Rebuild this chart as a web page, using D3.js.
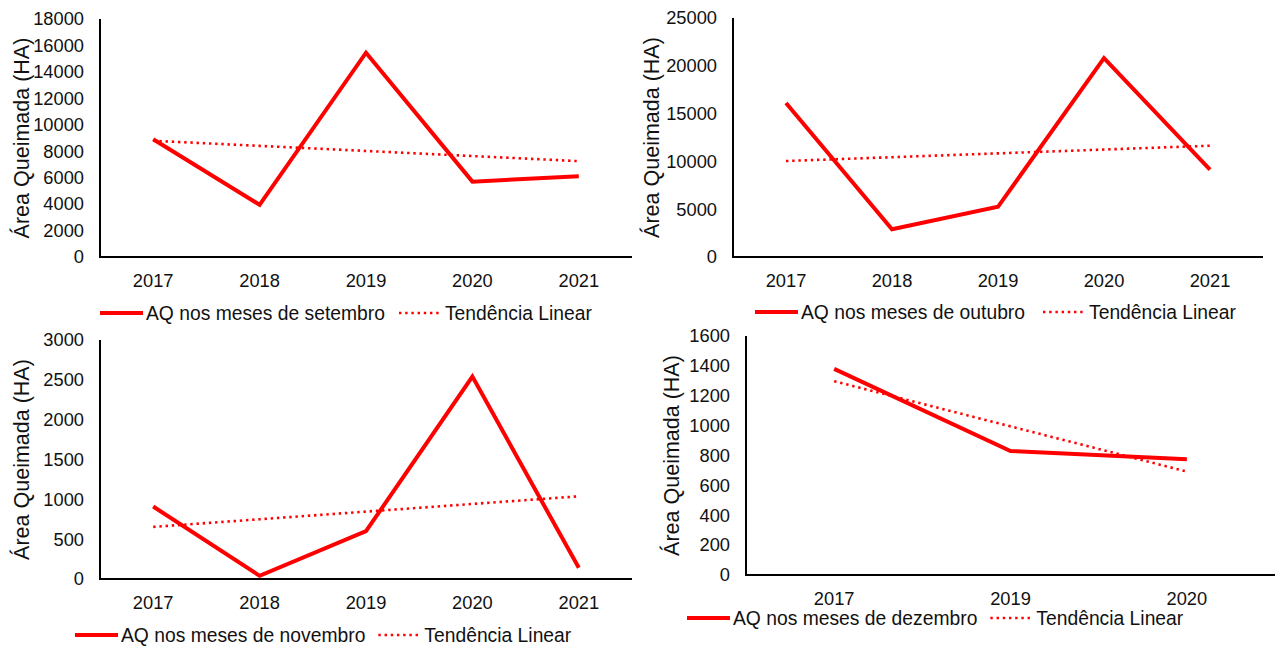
<!DOCTYPE html>
<html>
<head>
<meta charset="utf-8">
<script src="https://cdn.jsdelivr.net/npm/d3@7"></script>
<style>
  html, body { margin: 0; padding: 0; background: #fff; }
  svg { display: block; font-family: "Liberation Sans", Arial, sans-serif; }
</style>
</head>
<body>
<svg id="chart" width="1280" height="646"></svg>
<script>
// Burned area (hectares) per month and year
const yearsSet = ["2017", "2018", "2019", "2020", "2021"];
const setembro = [8900, 3950, 15450, 5700, 6100];
const outubro = [16100, 2900, 5250, 20800, 9150];
const novembro = [910, 40, 600, 2540, 140];
const yearsDez = ["2017", "2019", "2020"];
const dezembro = [1380, 830, 775];

// Axis tick values
const ticksSet = [0, 2000, 4000, 6000, 8000, 10000, 12000, 14000, 16000, 18000];
const ticksOut = [0, 5000, 10000, 15000, 20000, 25000];
const ticksNov = [0, 500, 1000, 1500, 2000, 2500, 3000];
const ticksDez = [0, 200, 400, 600, 800, 1000, 1200, 1400, 1600];

const yTitle = "Área Queimada (HA)";
const trendLabel = "Tendência Linear";

const RED = "#ff0000";
const svg = d3.select("#chart");

// Least-squares line over category index (1..n), as a spreadsheet trendline does
function linearTrend(vals) {
  const xs = vals.map((_, i) => i + 1);
  const mx = d3.mean(xs), my = d3.mean(vals);
  const num = d3.sum(xs, (x, i) => (x - mx) * (vals[i] - my));
  const den = d3.sum(xs, x => (x - mx) * (x - mx));
  const b = num / den, a = my - b * mx;
  return xs.map(x => a + b * x);
}

function drawPanel(p) {
  const g = svg.append("g");
  const x = d3.scaleBand().domain(p.cats).range([p.left, p.right]);
  const y = d3.scaleLinear().domain([0, d3.max(p.ticks)]).range([p.bottom, p.top]);

  // y axis tick labels
  const yAxis = d3.axisLeft(y).tickValues(p.ticks).tickSize(0).tickPadding(16).tickFormat(d3.format("d"));
  const ya = g.append("g").attr("transform", `translate(${p.left},0)`).call(yAxis);
  ya.select(".domain").remove();
  ya.selectAll("text").attr("font-size", 18.3).attr("fill", "#111").attr("font-family", "Liberation Sans, Arial, sans-serif");

  // x axis labels
  const xAxis = d3.axisBottom(x).tickSize(0).tickPadding(17);
  const xa = g.append("g").attr("transform", `translate(0,${p.bottom})`).call(xAxis);
  xa.select(".domain").remove();
  xa.selectAll("text").attr("font-size", 18.3).attr("fill", "#111").attr("font-family", "Liberation Sans, Arial, sans-serif");

  // axis lines
  g.append("line").attr("x1", p.left).attr("x2", p.left).attr("y1", y.range()[1]).attr("y2", p.bottom + 1)
    .attr("stroke", "#000").attr("stroke-width", 2);
  g.append("line").attr("x1", p.left - 1).attr("x2", p.right).attr("y1", p.bottom).attr("y2", p.bottom)
    .attr("stroke", "#000").attr("stroke-width", 2);

  // y title
  g.append("text")
    .attr("transform", `translate(${p.titleX},${(p.top + p.bottom) / 2}) rotate(-90)`)
    .attr("text-anchor", "middle").attr("dominant-baseline", "central")
    .attr("font-size", 21.5).attr("fill", "#111").text(yTitle);

  const cx = c => x(c) + x.bandwidth() / 2;
  const line = d3.line().x(d => cx(d.c)).y(d => y(d.v));

  // trendline
  const trend = linearTrend(p.values).map((v, i) => ({ c: p.cats[i], v }));
  g.append("path").datum(trend).attr("d", line).attr("fill", "none")
    .attr("stroke", RED).attr("stroke-width", 2.6).attr("stroke-dasharray", "2.4,3.8");

  // data series
  const pts = p.values.map((v, i) => ({ c: p.cats[i], v }));
  g.append("path").datum(pts).attr("d", line).attr("fill", "none")
    .attr("stroke", RED).attr("stroke-width", 4).attr("stroke-linejoin", "miter");

  // legend
  const lg = g.append("g");
  let lx = p.legendX;
  const ly = p.legendY;
  lg.append("line").attr("x1", lx).attr("x2", lx + 43).attr("y1", ly).attr("y2", ly)
    .attr("stroke", RED).attr("stroke-width", 4);
  const t1 = lg.append("text").attr("x", lx + 46).attr("y", ly).attr("dominant-baseline", "central")
    .attr("font-size", 19.3).attr("fill", "#111").text(p.seriesLabel);
  lx = lx + 46 + t1.node().getComputedTextLength() + p.legendGap;
  lg.append("line").attr("x1", lx).attr("x2", lx + 42).attr("y1", ly).attr("y2", ly)
    .attr("stroke", RED).attr("stroke-width", 2.6).attr("stroke-dasharray", "2.4,3.8");
  lg.append("text").attr("x", lx + 46).attr("y", ly).attr("dominant-baseline", "central")
    .attr("font-size", 19.3).attr("fill", "#111").text(trendLabel);
}

drawPanel({ cats: yearsSet, values: setembro, ticks: ticksSet, seriesLabel: "AQ nos meses de setembro",
  left: 100, right: 632, top: 19, bottom: 257, titleX: 22, legendX: 100, legendY: 313, legendGap: 14 });
drawPanel({ cats: yearsSet, values: outubro, ticks: ticksOut, seriesLabel: "AQ nos meses de outubro",
  left: 733, right: 1263, top: 18, bottom: 257, titleX: 652, legendX: 755, legendY: 312, legendGap: 18 });
drawPanel({ cats: yearsSet, values: novembro, ticks: ticksNov, seriesLabel: "AQ nos meses de novembro",
  left: 100, right: 632, top: 340, bottom: 579, titleX: 22, legendX: 75, legendY: 635, legendGap: 13 });
drawPanel({ cats: yearsDez, values: dezembro, ticks: ticksDez, seriesLabel: "AQ nos meses de dezembro",
  left: 746, right: 1275, top: 336, bottom: 575, titleX: 672, legendX: 687, legendY: 618, legendGap: 13 });
</script>
</body>
</html>
